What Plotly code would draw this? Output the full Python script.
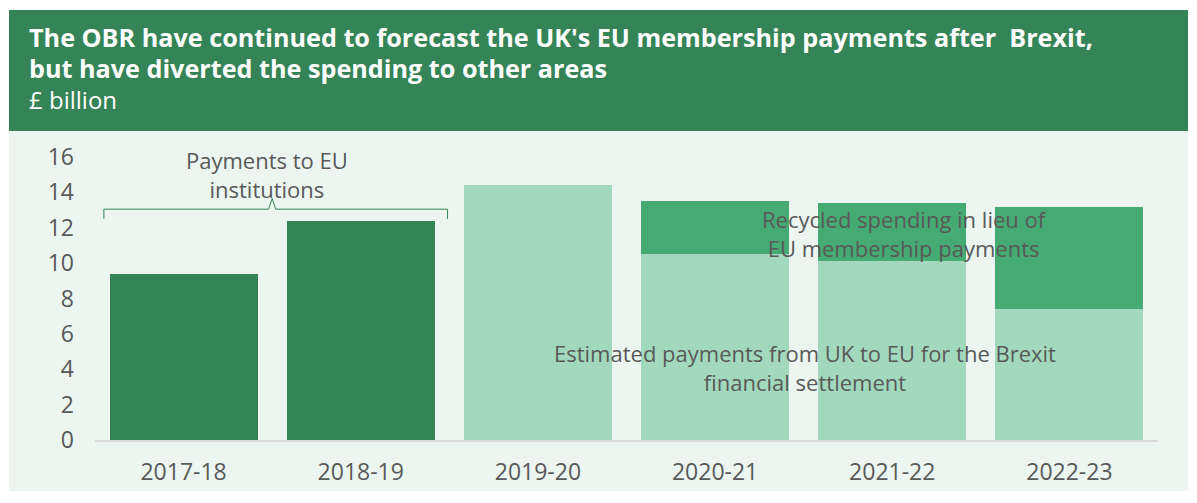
import plotly.graph_objects as go

years = ["2017-18", "2018-19", "2019-20", "2020-21", "2021-22", "2022-23"]
eu_institutions = [9.4, 12.4, None, None, None, None]
brexit_settlement = [None, None, 14.4, 10.5, 10.1, 7.4]
recycled_spending = [None, None, None, 3.0, 3.3, 5.8]
y_ticks = [0, 2, 4, 6, 8, 10, 12, 14, 16]

DARK = "#358457"
LIGHT = "#a2d9be"
MID = "#46ab72"
PANEL = "#ecf5f0"
TEXT = "#595959"
FONT = "Open Sans"

# plot area in pixels (1197 x 503 canvas)
W, H = 1197, 503
L, R, T, B = 95, 39, 157, 63
pw, ph = W - L - R, H - T - B


def px(x):
    return (x - L) / pw


def py(y):
    return (H - B - y) / ph


fig = go.Figure()
fig.add_bar(x=years, y=eu_institutions, marker=dict(color=DARK, line=dict(width=0)))
fig.add_bar(x=years, y=brexit_settlement, marker=dict(color=LIGHT, line=dict(width=0)))
fig.add_bar(x=years, y=recycled_spending, marker=dict(color=MID, line=dict(width=0)))

shapes = [
    # header band
    dict(type="rect", xref="paper", yref="paper", x0=px(9), x1=px(1188), y0=py(131), y1=py(10),
         fillcolor=DARK, line=dict(width=0), layer="below"),
    # chart panel
    dict(type="rect", xref="paper", yref="paper", x0=px(9), x1=px(1188), y0=py(491), y1=py(131),
         fillcolor=PANEL, line=dict(width=0), layer="below"),
    # brace over the pre-Brexit bars
    dict(type="path", xref="x", yref="y",
         path="M -0.45 12.5 L -0.45 13.05 L 0.48 13.05 L 0.5 13.65 L 0.52 13.05 L 1.49 13.05 L 1.49 12.5",
         line=dict(color=DARK, width=1)),
]

annotations = [
    dict(text="<b>The OBR have continued to forecast the UK's EU membership payments after  Brexit,</b>",
         x=px(27), y=py(37), size=25.2),
    dict(text="<b>but have diverted the spending to other areas</b>", x=px(27), y=py(68), size=25.2),
    dict(text="£ billion", x=px(27), y=py(99), size=24),
]
for a in annotations:
    size = a.pop("size")
    a.update(xref="paper", yref="paper", xanchor="left", yanchor="middle", showarrow=False,
             font=dict(family=FONT, size=size, color="white"))

notes = [
    dict(text="Payments to EU<br>institutions", x=0.47, y=15.0),
    dict(text="Recycled spending in lieu of<br>EU membership payments", x=4.07, y=11.7),
    dict(text="Estimated payments from UK to EU for the Brexit<br>financial settlement", x=3.51, y=4.1),
]
for n in notes:
    n.update(xref="x", yref="y", xanchor="center", yanchor="middle", showarrow=False,
             font=dict(family=FONT, size=22, color=TEXT), align="center")
    annotations.append(n)

fig.update_layout(
    width=W, height=H,
    margin=dict(l=L, r=R, t=T, b=B),
    barmode="stack", bargap=0.165,
    paper_bgcolor="white", plot_bgcolor=PANEL,
    showlegend=False,
    shapes=shapes, annotations=annotations,
    font=dict(family=FONT, color=TEXT),
)
fig.update_xaxes(showline=True, linecolor="#d9d9d9", linewidth=2, ticks="",
                 ticklabelstandoff=10, tickfont=dict(size=23, color=TEXT), showgrid=False)
fig.update_yaxes(range=[0, 16], tickvals=y_ticks, showgrid=False, zeroline=False,
                 ticks="", ticklabelstandoff=20, tickfont=dict(size=23, color=TEXT))

fig.write_html("out.html")
